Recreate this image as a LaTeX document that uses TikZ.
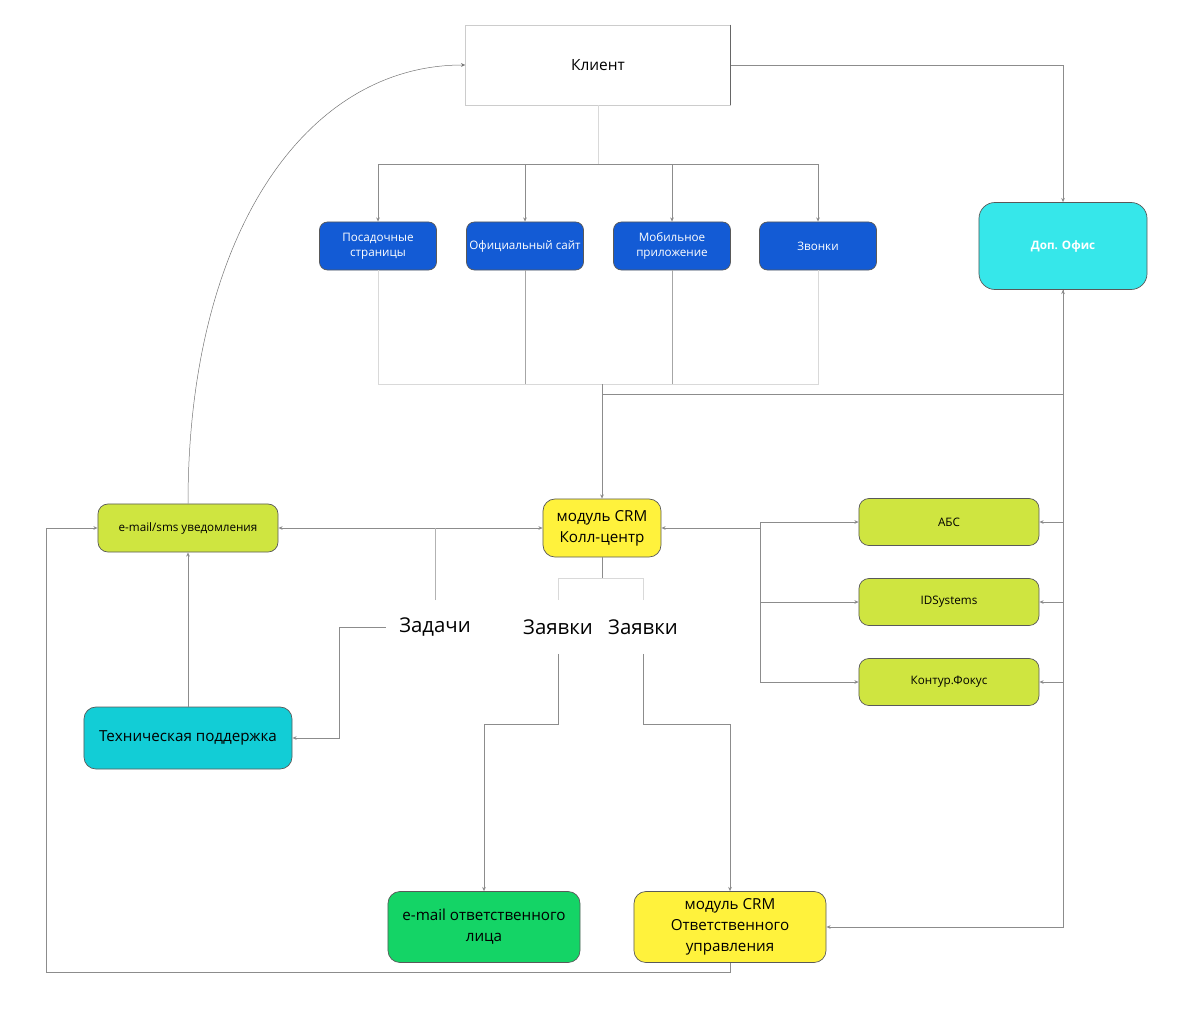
\documentclass[tikz,border=0pt]{standalone}
\usepackage{fontspec}
\setmainfont{Open Sans}
\usetikzlibrary{arrows.meta}
\definecolor{siteblue}{HTML}{135BD5}
\definecolor{officecyan}{HTML}{36E7EA}
\definecolor{lime}{HTML}{CFE540}
\definecolor{crmyellow}{HTML}{FFF23C}
\definecolor{supportteal}{HTML}{12CDD6}
\definecolor{mailgreen}{HTML}{14D466}
\begin{document}
\begin{tikzpicture}[x=0.025cm,y=-0.025cm,
    wire/.style={draw=black!45,line width=0.5pt},
    faint/.style={draw=black!15,line width=0.5pt},
    arr/.style={wire,-{Stealth[length=3pt,width=2.6pt]}},
    arrs/.style={wire,{Stealth[length=3pt,width=2.6pt]}-{Stealth[length=3pt,width=2.6pt]}},
    boxbase/.style={draw=black!65,line width=0.5pt,align=center,inner sep=2pt},
    channel/.style={boxbase,fill=siteblue,text=white,rounded corners=0.2cm,
        minimum width=2.925cm,minimum height=1.2cm,
        font=\fontsize{8.3}{10.6}\selectfont},
    system/.style={boxbase,fill=lime,rounded corners=0.25cm,
        minimum width=4.5cm,minimum height=1.175cm,
        font=\fontsize{8.3}{10.6}\selectfont},
    module/.style={boxbase,rounded corners=0.3cm,
        font=\fontsize{10.8}{14.9}\selectfont},
    flowlabel/.style={inner xsep=0.33cm,inner ysep=0pt,minimum height=1.325cm,
        font=\fontsize{14.5}{17}\selectfont}]
    \useasboundingbox (0,0) rectangle (1200,1017);

    % client and channels
    \node[draw=black!20,fill=white,minimum width=6.625cm,minimum height=2cm,
        font=\fontsize{11}{13}\selectfont] (client) at (598,65) {Клиент};
    \draw[black!60,line width=0.5pt] (client.north east) -- (client.south east);
    \node[channel] (land) at (378,246) {Посадочные\\страницы};
    \node[channel] (site) at (525,246) {Официальный сайт};
    \node[channel] (app) at (672,246) {Мобильное\\приложение};
    \node[channel] (calls) at (818,246) {Звонки};
    \node[boxbase,fill=officecyan,text=white,rounded corners=0.4cm,
        minimum width=4.2cm,minimum height=2.175cm,
        font=\fontsize{8.3}{10}\selectfont\bfseries] (office) at (1063,246) {Доп. Офис};

    % core
    \node[module,fill=crmyellow,minimum width=2.95cm,minimum height=1.45cm]
        (crm) at (602,528) {модуль CRM\\Колл-центр};
    \node[system] (abs) at (949,522) {АБС};
    \node[system] (ids) at (949,602) {IDSystems};
    \node[system] (kontur) at (949,682) {Контур.Фокус};
    \node[system,minimum height=1.2cm] (notify) at (188,528) {e-mail/sms уведомления};
    \node[module,fill=supportteal,minimum width=5.2cm,minimum height=1.55cm]
        (support) at (188,738) {Техническая поддержка};
    \node[module,fill=mailgreen,minimum width=4.8cm,minimum height=1.775cm]
        (mailresp) at (484,927) {e-mail ответственного\\лица};
    \node[module,fill=crmyellow,minimum width=4.8cm,minimum height=1.775cm]
        (crmresp) at (730,927) {модуль CRM\\Ответственного\\управления};

    \node[flowlabel] (tasks) at (435,627) {Задачи};
    \node[flowlabel] (req1) at (558,627) {Заявки};
    \node[flowlabel] (req2) at (643,627) {Заявки};

    \coordinate (cbus) at (598,164);
    \coordinate (bbus) at (602,384);
    \coordinate (split) at (602,394);
    \coordinate (lbus) at (760,528);
    \coordinate (loop) at (46,972);

    % client -> channels
    \draw[faint] (client.south) -- (cbus);
    \foreach \n in {land,site,app,calls}
    \draw[arr] (cbus) -| (\n.north);
    \draw[arr] (client.east) -| (office.north);
    % channels -> crm
    \draw[faint] (land.south) -- (land.south |- bbus) -- (calls.south |- bbus) -- (calls.south);
    \foreach \n in {site,app}
    \draw[wire,draw=black!35] (\n.south) -- (\n.south |- bbus);
    \draw[arr] (bbus) -- (crm.north);
    \draw[arr] (split) -| (office.south);
    % office -> systems
    \draw[arr] (office.south) |- (crmresp.east);
    \foreach \n in {abs,ids,kontur}
    \draw[arr] (office.south |- \n.east) -- (\n.east);
    % crm <-> systems
    \draw[arr] (lbus) -- (crm.east);
    \foreach \n in {abs,ids,kontur}
    \draw[arr] (lbus) |- (\n.west);
    % notifications
    \draw[arrs] (crm.west) -- (notify.east);
    \draw[wire,draw=black!30] (tasks.north) -- (tasks.north |- crm.west);
    \draw[arr] (tasks.west) -- ++(-46,0) |- (support.east);
    \draw[arr] (support.north) -- (notify.south);
    \draw[draw=black!55,line width=0.35pt,-{Stealth[length=3pt,width=2.6pt]}] (notify.north)
        .. controls (188,235) and (305,65) .. (client.west);
    % requests
    \draw[wire] (crm.south) -- ++(0,21) coordinate (rsplit);
    \draw[faint] (rsplit) -| (req1.north);
    \draw[faint] (rsplit) -| (req2.north);
    \draw[arr] (req1.south) -- ++(0,71) -| (mailresp.north);
    \draw[arr] (req2.south) -- ++(0,71) -| (crmresp.north);
    \draw[arr] (crmresp.south) |- (loop) |- (notify.west);
\end{tikzpicture}
\end{document}
